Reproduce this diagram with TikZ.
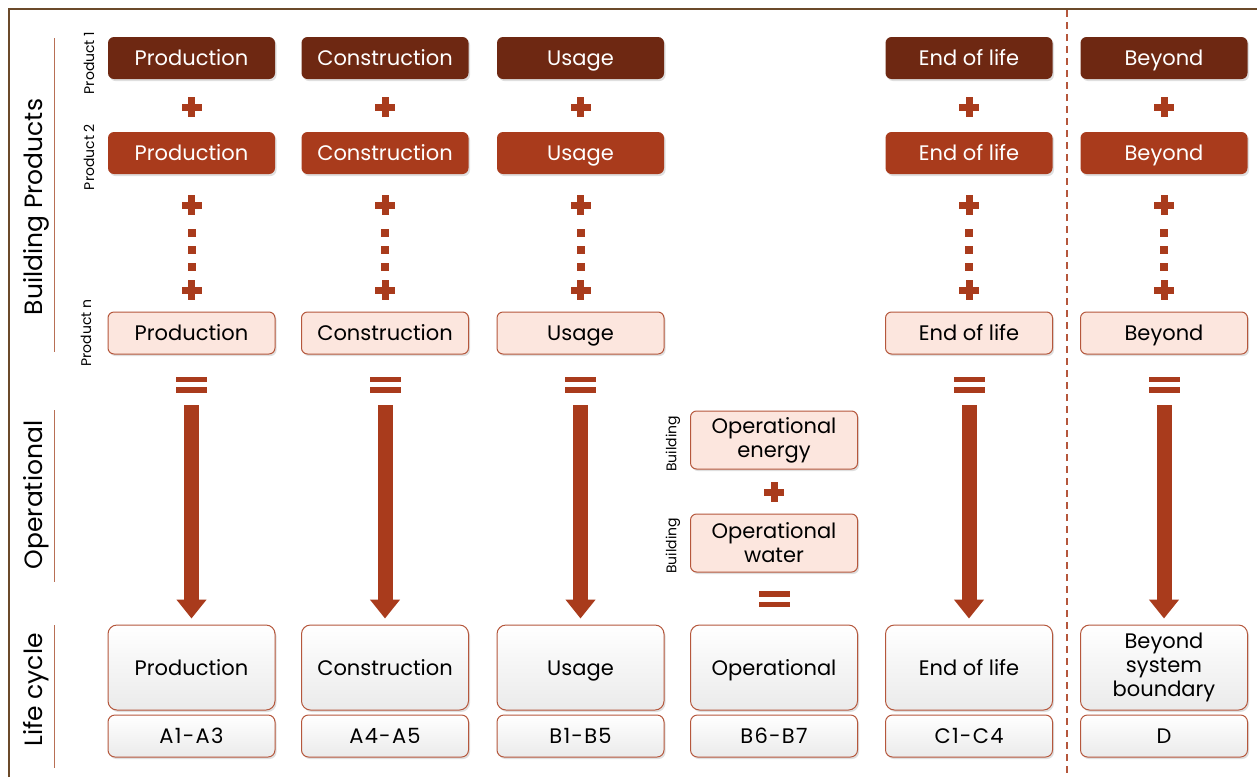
\documentclass[tikz,border=0pt]{standalone}
\usepackage{fontspec}
\setmainfont{Poppins}
\usetikzlibrary{shadows,arrows.meta}
\definecolor{dk}{HTML}{6E2812}
\definecolor{rust}{HTML}{A93B1C}
\definecolor{pinkf}{HTML}{FCE6DE}
\definecolor{bord}{HTML}{B5573C}
\definecolor{framec}{HTML}{6B4A2A}
\definecolor{hline}{HTML}{B86F55}
\tikzset{
  shad/.style={drop shadow={opacity=0.25,shadow xshift=1.5pt,shadow yshift=-2pt}},
  boxbase/.style={rounded corners=6pt, minimum width=167pt, minimum height=42pt, inner sep=0pt, text height=18pt, text depth=3pt, font=\fontsize{21}{24}\selectfont, shad},
  rowone/.style={boxbase, fill=dk, text=white},
  rowtwo/.style={boxbase, fill=rust, text=white},
  rown/.style={boxbase, fill=pinkf, draw=bord, line width=1pt, text=black},
  opbox/.style={rounded corners=6pt, minimum width=167pt, minimum height=58pt, inner sep=0pt, fill=pinkf, draw=bord, line width=1pt, align=center, font=\fontsize{21}{24}\selectfont, shad},
  bigshape/.style={rounded corners=9pt, minimum width=167pt, minimum height=85pt, inner sep=0pt, top color=white, bottom color=black!8, draw=bord, line width=1pt, font=\fontsize{21}{24}\selectfont, shad},
  bigbox/.style={bigshape, text height=18pt, text depth=3pt},
  bigmulti/.style={bigshape, align=center},
  codebox/.style={rounded corners=7pt, minimum width=167pt, minimum height=42pt, inner sep=0pt, top color=white, bottom color=black!8, draw=bord, line width=1pt, text height=17pt, text depth=2pt, font=\fontsize{21}{24}\selectfont\addfontfeature{LetterSpace=6}, shad},
  heading/.style={rotate=90, font=\fontsize{25}{28}\selectfont, inner sep=0pt},
  small/.style={rotate=90, font=\fontsize{14}{16}\selectfont, inner sep=0pt},
  hl/.style={hline, line width=1pt},
  plusmark/.pic={\fill[rust] (-10,-3.5) rectangle (10,3.5); \fill[rust] (-3.5,-10) rectangle (3.5,10);},
  eqmark/.pic={\fill[rust] (-15.5,-8) rectangle (15.5,-2.5); \fill[rust] (-15.5,2.5) rectangle (15.5,8);},
  dotmark/.pic={\fill[rust] (-4,-4) rectangle (4,4);},
  bigarrow/.style={rust, line width=15pt, -{Triangle[width=29pt,length=19pt]}, shorten >=6pt}
}
\begin{document}
\begin{tikzpicture}[x=1pt,y=-1pt]
\useasboundingbox (0,0) rectangle (1257,777);
\fill[white] (0,0) rectangle (1257,777);
\draw[framec, line width=2pt] (9,777) -- (9,9) -- (1257,9);
% left headings
\node[heading] (hbp) at (36,207) {Building Products};
\draw[hl] (54,38) -- (54,352);
\node[heading] (hop) at (36,495) {Operational};
\draw[hl] (54,410) -- (54,582);
\node[heading] (hlc) at (36,690) {Life cycle};
\draw[hl] (54,625) -- (54,768);
% product labels
\node[small] (pl1) at (89,63) {Product 1};
\node[small] (pl2) at (89,157) {Product 2};
\node[small] (pln) at (86,333) {Product n};
% product columns
\foreach \x/\t/\n in {191.5/Production/a, 385/Construction/b, 580.5/Usage/c, 969/End of life/e, 1164/Beyond/f}{
  \node[rowone] (r1\n) at (\x,58) {\t};
  \node[rowtwo] (r2\n) at (\x,153) {\t};
  \node[rown] (rn\n) at (\x,333) {\t};
  \pic at (\x,107) {plusmark};
  \pic at (\x,205) {plusmark};
  \pic at (\x,233) {dotmark};
  \pic at (\x,250) {dotmark};
  \pic at (\x,267) {dotmark};
  \pic at (\x,290) {plusmark};
  \pic at (\x,384.5) {eqmark};
  \coordinate (s\n) at (\x,405);
}
% bottom boxes
\node[bigbox] (ba) at (191.5,667.5) {Production};
\node[bigbox] (bb) at (385,667.5) {Construction};
\node[bigbox] (bc) at (580.5,667.5) {Usage};
\node[bigbox] (bd) at (774,667.5) {Operational};
\node[bigbox] (be) at (969,667.5) {End of life};
\node[bigmulti] (bf) at (1164,667.5) {Beyond\\system\\boundary};
\node[codebox] (ca) at (191.5,736) {A1-A3};
\node[codebox] (cb) at (385,736) {A4-A5};
\node[codebox] (cc) at (580.5,736) {B1-B5};
\node[codebox] (cd) at (774,736) {B6-B7};
\node[codebox] (ce) at (969,736) {C1-C4};
\node[codebox] (cf) at (1164,736) {D};
% arrows
\foreach \n in {a,b,c,e,f}{
  \draw[bigarrow] (s\n) -- (b\n.north);
}
% operational column
\node[opbox] (oe) at (774,440) {Operational\\energy};
\node[opbox] (ow) at (774,543) {Operational\\water};
\node[small] (bl1) at (673,444) {Building};
\node[small] (bl2) at (673,546) {Building};
\pic at (774,492) {plusmark};
\pic at (774,599) {eqmark};
% boundary
\draw[bord, line width=1.5pt, dash pattern=on 7pt off 5pt] (1067,10) -- (1067,777);
\end{tikzpicture}
\end{document}
